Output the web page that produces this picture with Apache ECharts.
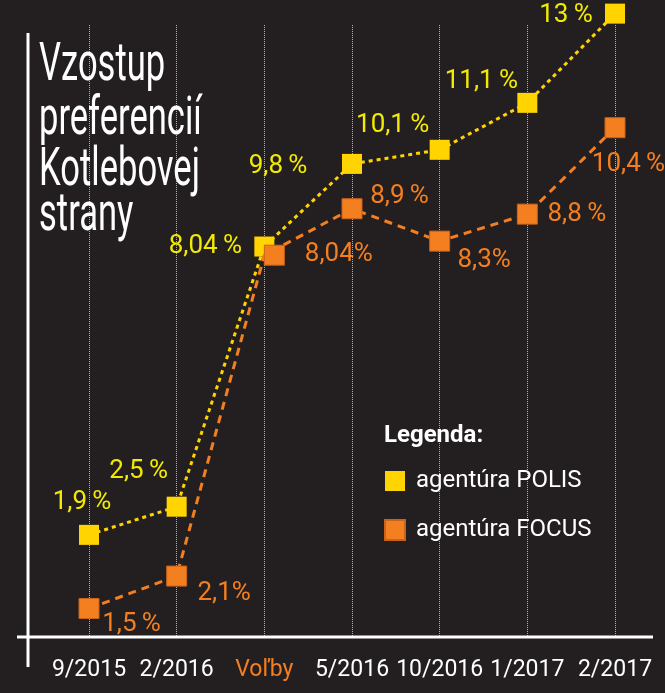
<!DOCTYPE html>
<html>
<head>
<meta charset="utf-8">
<script src="https://cdn.jsdelivr.net/npm/echarts@6/dist/echarts.min.js"></script>
<style>
html,body{margin:0;padding:0;background:#231f20;}
#chart{width:665px;height:693px;}
</style>
</head>
<body>
<div id="chart"></div>
<script>
const categories = ['9/2015', '2/2016', 'Voľby', '5/2016', '10/2016', '1/2017', '2/2017'];
const polisValues = [1.9, 2.5, 8.04, 9.8, 10.1, 11.1, 13];
const focusValues = [1.5, 2.1, 8.04, 8.9, 8.3, 8.8, 10.4];
const polisLabels = ['1,9\u2009%', '2,5\u2009%', '8,04\u2009%', '9,8\u2009%', '10,1\u2009%', '11,1\u2009%', '13\u2009%'];
const focusLabels = ['1,5\u2009%', '2,1%', '8,04%', '8,9\u2009%', '8,3%', '8,8\u2009%', '10,4\u2009%'];
const seriesNames = ['agentúra POLIS', 'agentúra FOCUS'];
const titleLines = ['Vzostup', 'preferencií', 'Kotlebovej', 'strany'];
const legendTitle = 'Legenda:';

// label offsets (style only): label centre relative to marker centre
const polisOff = [[-7, -32], [-38, -35], [-59, 0], [-74, 3], [-47, -24], [-46, -21], [-49, 2]];
const focusOff = [[43, 17], [48, 18], [65, 0], [48, -12], [45, 20], [50, 1], [14, 37]];

const POLIS = '#ffd400', POLIS_TXT = '#f2ea00', FOCUS = '#f47f20';
const SYM = 20;

function buildData(values, offs, extra) {
  return values.map((v, i) => {
    const d = {
      value: v,
      label: { position: [SYM / 2 + offs[i][0], SYM / 2 + offs[i][1]] }
    };
    if (extra && extra[i]) Object.assign(d, extra[i]);
    return d;
  });
}

const chart = echarts.init(document.getElementById('chart'), null, { renderer: 'canvas' });

const titleGraphics = titleLines.map((t, i) => ({
  type: 'text',
  x: 39,
  y: [85, 139, 190, 235][i] - 19,
  scaleX: 0.64,
  style: {
    text: t,
    fill: '#ffffff',
    font: '54px Roboto',
    verticalAlign: 'middle'
  },
  z: 10
}));

const option = {
  backgroundColor: '#231f20',
  animation: false,
  grid: { left: 89, right: 50, top: 25, bottom: 693 - 637 },
  xAxis: {
    type: 'category',
    data: categories,
    boundaryGap: false,
    axisLine: { show: false },
    axisTick: { show: false },
    axisLabel: {
      interval: 0,
      margin: 22,
      fontFamily: 'Roboto',
      fontSize: 23,
      color: (val) => val === 'Voľby' ? FOCUS : '#ffffff'
    },
    splitLine: { show: true, lineStyle: { color: '#b0b0b0', type: 'dotted', width: 1 } }
  },
  yAxis: [
    { type: 'value', min: -0.275, max: 12.758, show: false, splitLine: { show: false } },
    { type: 'value', min: 0.972, max: 12.301, show: false, splitLine: { show: false } }
  ],
  legend: {
    data: seriesNames,
    orient: 'vertical',
    left: 384,
    top: 469,
    padding: 0,
    itemWidth: 20,
    itemHeight: 20,
    itemGap: 25,
    icon: 'rect',
    textStyle: { color: '#ffffff', fontFamily: 'Roboto', fontSize: 24, padding: [0, 0, 0, 6] }
  },
  graphic: [
    { type: 'line', shape: { x1: 28, y1: 33, x2: 28, y2: 667 }, style: { stroke: '#ffffff', lineWidth: 3 }, z: 5 },
    { type: 'line', shape: { x1: 17, y1: 637, x2: 653, y2: 637 }, style: { stroke: '#ffffff', lineWidth: 3 }, z: 5 },
    {
      type: 'text', x: 384, y: 436,
      style: { text: legendTitle, fill: '#ffffff', font: 'bold 24px Roboto', verticalAlign: 'middle' }, z: 10
    }
  ].concat(titleGraphics),
  series: [
    {
      name: seriesNames[0],
      type: 'line',
      yAxisIndex: 0,
      data: buildData(polisValues, polisOff),
      symbol: 'rect',
      symbolSize: SYM,
      clip: false,
      z: 2,
      itemStyle: { color: POLIS },
      lineStyle: { color: POLIS, width: 3, type: [4, 4] },
      label: {
        show: true,
        align: 'center',
        verticalAlign: 'middle',
        fontFamily: 'Roboto',
        fontSize: 26,
        color: POLIS_TXT,
        formatter: (p) => polisLabels[p.dataIndex]
      }
    },
    {
      name: seriesNames[1],
      type: 'line',
      yAxisIndex: 1,
      data: buildData(focusValues, focusOff, { 2: { symbolOffset: [10, 0] } }),
      symbol: 'rect',
      symbolSize: SYM,
      clip: false,
      z: 3,
      itemStyle: { color: FOCUS, borderColor: '#c9631a', borderWidth: 1 },
      lineStyle: { color: FOCUS, width: 3, type: [8, 6] },
      label: {
        show: true,
        align: 'center',
        verticalAlign: 'middle',
        fontFamily: 'Roboto',
        fontSize: 26,
        color: FOCUS,
        formatter: (p) => focusLabels[p.dataIndex]
      }
    }
  ]
};
chart.setOption(option);
</script>
</body>
</html>
